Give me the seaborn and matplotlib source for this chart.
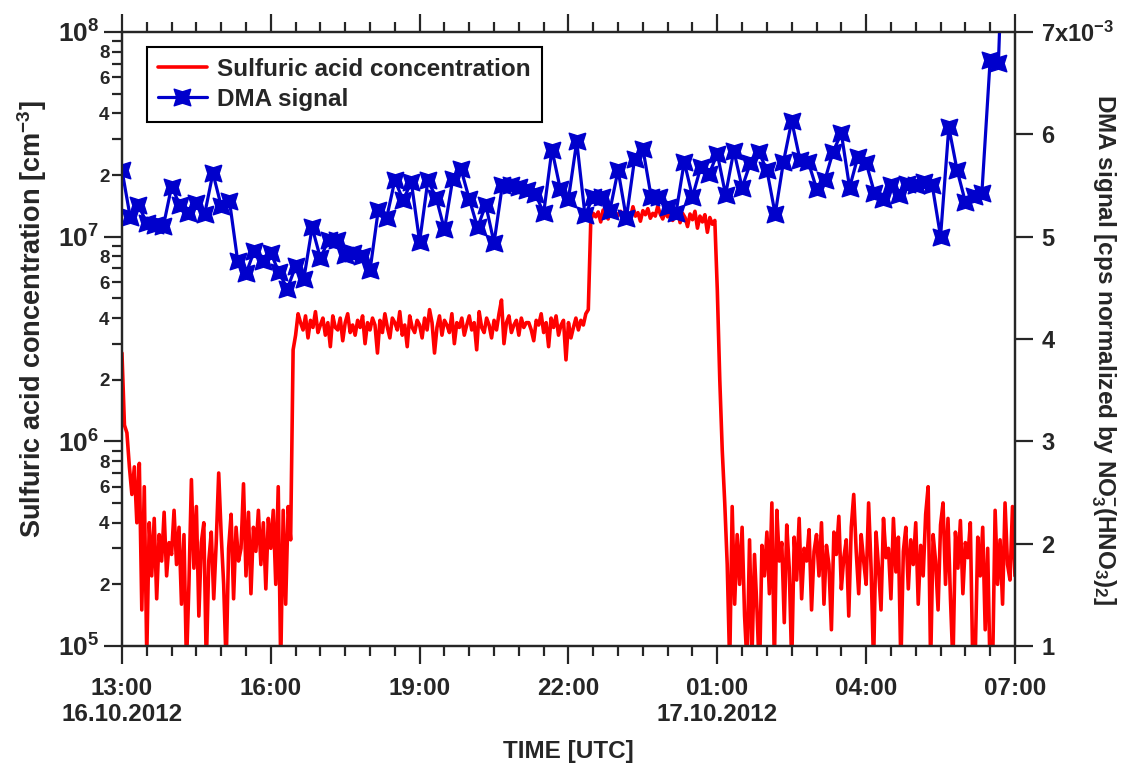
import numpy as np
import pandas as pd
import matplotlib
matplotlib.use('Agg')
import matplotlib.pyplot as plt
import matplotlib.dates as mdates
from matplotlib.ticker import FixedLocator, FuncFormatter, LogLocator
from matplotlib.lines import Line2D
import seaborn as sns

# DMA signal [x1e-3], one value every 10 min from 13:00 16.10.2012
dma_signal = [
    5.65, 5.19, 5.31, 5.13, 5.11, 5.10, 5.49, 5.31, 5.23, 5.33, 5.22, 5.62,
    5.30, 5.35, 4.76, 4.64, 4.86, 4.76, 4.84, 4.65, 4.49, 4.71, 4.59, 5.09,
    4.79, 4.97, 4.97, 4.82, 4.84, 4.81, 4.67, 5.26, 5.18, 5.55, 5.36, 5.53,
    4.95, 5.55, 5.38, 5.07, 5.56, 5.66, 5.37, 5.09, 5.31, 4.94, 5.50, 5.50,
    5.49, 5.46, 5.42, 5.23, 5.85, 5.47, 5.37, 5.93, 5.21, 5.39, 5.39, 5.25,
    5.65, 5.18, 5.76, 5.86, 5.39, 5.39, 5.29, 5.23, 5.73, 5.39, 5.68, 5.61,
    5.81, 5.41, 5.84, 5.48, 5.72, 5.83, 5.65, 5.22, 5.73, 6.13, 5.75, 5.73,
    5.47, 5.55, 5.83, 6.01, 5.48, 5.78, 5.72, 5.43, 5.37, 5.50, 5.41, 5.51,
    5.50, 5.53, 5.50, 5.00, 6.07, 5.65, 5.34, 5.40, 5.43, 6.73, 6.70, 9.00,
]

# sulfuric acid [x1e5 cm-3], one value every 3 min from 13:00 16.10.2012
acid_conc = [
    27, 12, 11, 7.5, 5.5, 7.5, 4, 7.8, 1.5, 6, 0.9, 4, 2.2, 4.2, 1.7, 3.5, 2.6, 4.5, 2.2, 3.2,        # 13h
    2.8, 4.6, 2.5, 3.8, 1.6, 3.5, 0.8, 2.0, 6.5, 2.4, 4.8, 1.4, 3.2, 4.0, 0.8, 2.6, 3.6, 1.7, 3.2, 7.0,  # 14h
    3.5, 2.0, 0.8, 3.0, 4.4, 1.7, 3.8, 2.6, 3.0, 6.2, 2.2, 4.5, 1.8, 3.8, 2.9, 4.6, 2.5, 4.0, 1.9, 4.2,  # 15h
    3.0, 4.6, 2.0, 6.0, 0.8, 4.6, 1.6, 4.8, 3.3, 28, 33, 42, 38, 35, 41, 32, 39, 36, 43, 34,           # 16h
    37, 40, 33, 38, 29, 41, 36, 35, 40, 31, 38, 42, 34, 37, 33, 39, 36, 41, 30, 38,                   # 17h
    35, 40, 37, 27, 39, 34, 42, 36, 32, 40, 38, 35, 43, 33, 37, 29, 41, 36, 34, 39,                   # 18h
    37, 32, 40, 35, 44, 38, 27, 36, 41, 33, 39, 37, 34, 42, 30, 38, 36, 40, 33, 37,                   # 19h
    41, 35, 38, 28, 43, 36, 34, 40, 37, 32, 39, 35, 42, 49, 30, 38, 41, 34, 37, 39,                   # 20h
    33, 40, 36, 38, 38, 35, 31, 39, 37, 42, 34, 38, 29, 40, 36, 41, 33, 37, 39, 25,                   # 21h
    38, 32, 36, 40, 35, 39, 37, 42, 44, 120, 130, 125, 132, 118, 135, 128, 122, 138, 126, 131,        # 22h
    127, 133, 121, 136, 129, 124, 140, 126, 131, 119, 134, 128, 137, 123, 130, 126, 141, 129, 122, 133,  # 23h
    125, 132, 120, 128, 135, 117, 130, 124, 112, 129, 121, 133, 110, 126, 118, 128, 105, 124, 115, 120,  # 00h
    55, 20, 9, 5, 2.5, 0.8, 4.8, 1.6, 3.5, 2.0, 3.8, 1.4, 0.8, 3.3, 0.9, 2.8, 1.5, 0.7, 3.1, 2.2,      # 01h
    3.6, 1.8, 5.0, 0.8, 4.6, 2.6, 3.2, 1.3, 3.9, 2.4, 0.8, 3.4, 2.1, 4.2, 1.7, 3.0, 2.6, 3.7, 1.5, 2.9,  # 02h
    3.5, 2.2, 4.0, 1.6, 3.1, 2.5, 1.2, 3.6, 2.8, 4.3, 1.9, 2.7, 3.3, 1.4, 3.8, 5.5, 2.9, 1.8, 3.5, 2.6,  # 03h
    2.0, 5.0, 2.4, 0.8, 3.6, 2.4, 1.5, 4.2, 2.7, 3.0, 1.7, 4.2, 2.3, 3.4, 0.8, 2.9, 3.8, 1.9, 3.3, 2.5,  # 04h
    4.0, 1.6, 3.1, 2.2, 4.4, 6.0, 0.8, 3.5, 2.6, 1.5, 3.9, 5.0, 2.0, 4.2, 1.7, 0.8, 3.6, 2.4, 4.1, 1.8,  # 05h
    3.2, 2.7, 4.0, 0.8, 0.9, 3.4, 2.2, 3.8, 1.2, 3.0, 0.7, 0.8, 4.6, 2.0, 3.3, 1.6, 5.0, 2.5, 2.1, 4.8,  # 06h
    2.2,
]

right_ticks = [1, 2, 3, 4, 5, 6, 7]
right_labels = ['1', '2', '3', '4', '5', '6', '7x10$^{-3}$']

t0 = pd.Timestamp('2012-10-16 13:00')
t1 = pd.Timestamp('2012-10-17 07:00')
acid = pd.DataFrame({'time': pd.date_range(t0, periods=len(acid_conc), freq='3min'),
                     'conc': np.array(acid_conc) * 1e5})
dma = pd.DataFrame({'time': pd.date_range(t0, periods=len(dma_signal), freq='10min'),
                    'signal': dma_signal})

sns.set_style('ticks')
plt.rcParams['font.family'] = ['Liberation Sans', 'DejaVu Sans']
plt.rcParams['font.weight'] = 'bold'
plt.rcParams['mathtext.fontset'] = 'custom'
plt.rcParams['mathtext.rm'] = 'Liberation Sans:bold'
plt.rcParams['mathtext.default'] = 'rm'
plt.rcParams['axes.linewidth'] = 1.6

fig = plt.figure(figsize=(11.23, 7.67), dpi=100)
ax = fig.add_axes([0.1086, 0.1578, 0.7952, 0.8005])

red = '#ff0000'
blue = '#0000cc'
star = [(1, 1), (0, 0.68), (-1, 1), (-0.68, 0), (-1, -1), (0, -0.68), (1, -1), (0.68, 0), (1, 1)]

sns.lineplot(data=acid, x='time', y='conc', ax=ax, color=red, lw=2.6, legend=False)
ax.set_yscale('log')
ax.set_ylim(1e5, 1e8)
ax.set_xlim(t0, t1)

ax2 = ax.twinx()
sns.lineplot(data=dma, x='time', y='signal', ax=ax2, color=blue, lw=2.3,
             marker=star, markersize=12, markeredgecolor=blue, markerfacecolor=blue,
             markeredgewidth=1.0, legend=False)
ax2.set_ylim(1, 7)
ax2.set_xlim(t0, t1)

# x axis
def time_fmt(x, pos):
    d = mdates.num2date(x)
    s = d.strftime('%H:%M')
    if d.hour in (13, 1):
        s += '\n' + d.strftime('%d.%m.%Y')
    return s

ax.xaxis.set_major_locator(mdates.HourLocator(byhour=range(1, 24, 3)))
ax.xaxis.set_minor_locator(mdates.MinuteLocator(byminute=[0, 30]))
ax.xaxis.set_major_formatter(FuncFormatter(time_fmt))
ax.tick_params(axis='x', which='major', length=13, width=1.6, labelsize=17.5, top=True, pad=9)
ax.tick_params(axis='x', which='minor', length=7, width=1.6, top=True)
ax.set_xlabel('TIME [UTC]', fontsize=17.5, fontweight='bold', labelpad=10)

# left log axis
def minor_fmt(y, pos):
    m = int(round(y / 10 ** np.floor(np.log10(y) + 1e-9)))
    return str(m) if m in (2, 4, 6, 8) else ''

ax.yaxis.set_minor_locator(LogLocator(base=10, subs=range(2, 10)))
ax.yaxis.set_minor_formatter(FuncFormatter(minor_fmt))
ax.tick_params(axis='y', which='major', length=13, width=1.6, labelsize=19)
ax.tick_params(axis='y', which='minor', length=7, width=1.6, labelsize=13.5, pad=2)
ax.set_ylabel('Sulfuric acid concentration [cm$^{-3}$]', fontsize=19.5, fontweight='bold',
              va='center')
ax.yaxis.set_label_coords(-0.101, 0.532)

# right axis
ax2.yaxis.set_major_locator(FixedLocator(right_ticks))
ax2.set_yticklabels(right_labels)
ax2.tick_params(axis='y', which='major', length=13, width=1.6, labelsize=17, pad=6)
ax2.set_ylabel('DMA signal [cps normalized by NO$_3^{-}$(HNO$_3$)$_2$]',
               fontsize=17.5, fontweight='bold', rotation=270, va='center')
ax2.yaxis.set_label_coords(1.099, 0.482)

handles = [Line2D([], [], color=red, lw=2.6),
           Line2D([], [], color=blue, lw=2.3, marker=star, markersize=12)]
leg = ax2.legend(handles, ['Sulfuric acid concentration', 'DMA signal'],
                 loc='upper left', bbox_to_anchor=(0.028, 0.976), fontsize=17.5,
                 frameon=True, fancybox=False, edgecolor='black', framealpha=1,
                 borderpad=0.45, labelspacing=0.3, handlelength=2.0, handletextpad=0.45,
                 borderaxespad=0.0)
leg.get_frame().set_linewidth(1.5)

fig.savefig('out.png', dpi=100)
